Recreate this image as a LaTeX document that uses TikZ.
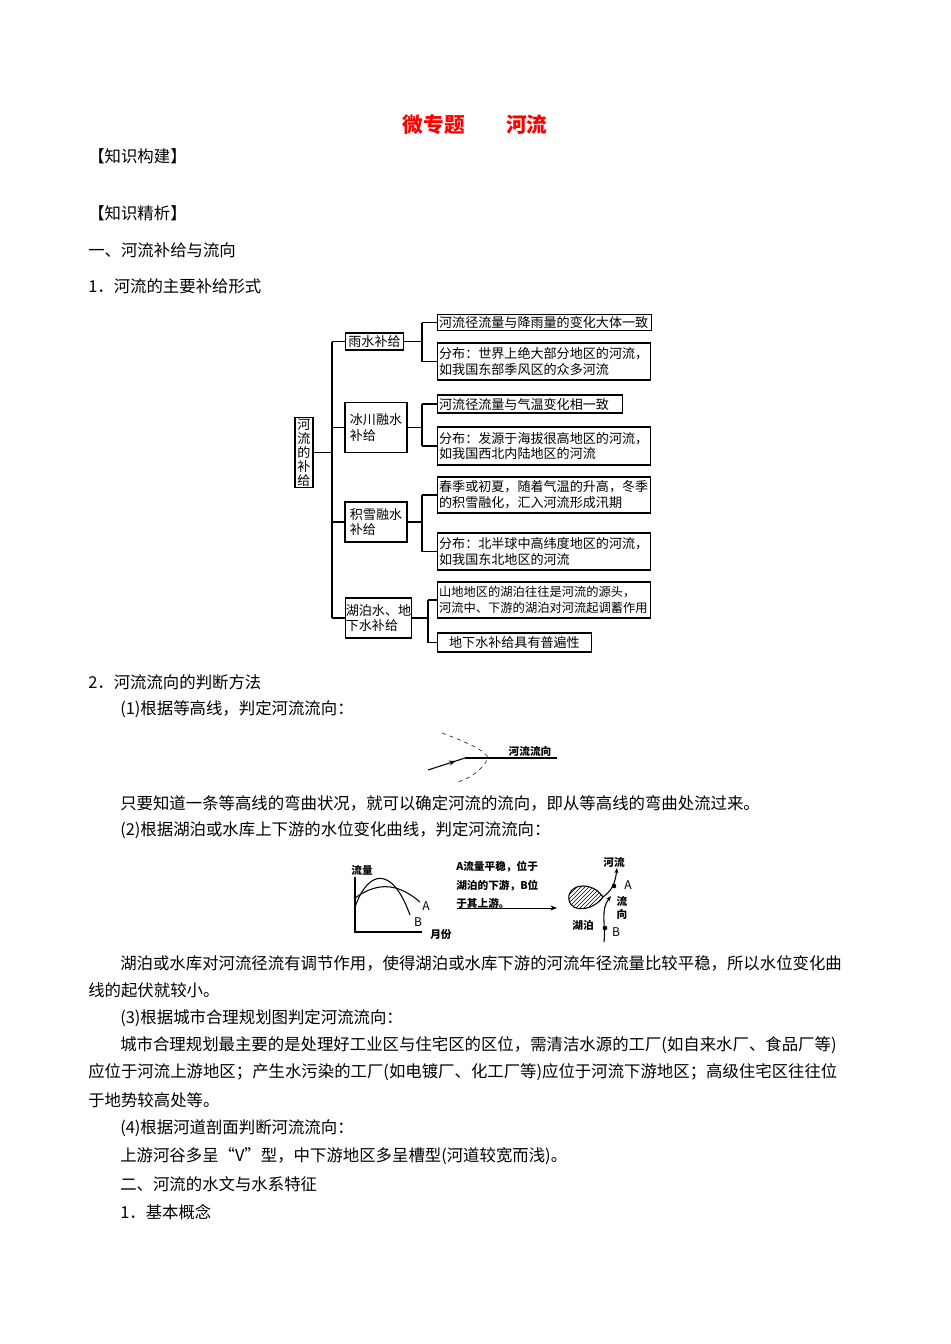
\documentclass[tikz,border=0pt]{standalone}
\usepackage{fontspec}
\setmainfont{Noto Sans CJK SC}
\usetikzlibrary{patterns,decorations.markings,arrows.meta}
\begin{document}
\begin{tikzpicture}[x=0.75pt,y=-0.75pt,
  body/.style={anchor=west,inner sep=0,font=\fontsize{12.3pt}{14pt}\selectfont},
  box/.style={draw,thick,inner sep=1.5pt,font=\fontsize{9.8pt}{11.8pt}\selectfont,align=left},
  leaf/.style={box,anchor=west,text width=#1-3pt,inner sep=1.2pt},
  small/.style={inner sep=0,font=\bfseries\fontsize{8pt}{10pt}\selectfont,align=left}]
\useasboundingbox (0,0) rectangle (950,1344);
\node[inner sep=0,text=red,font=\bfseries\fontsize{15.5pt}{18pt}\selectfont] (title) at (475,125) {微专题\hspace{2em}河流};
\node[body] (t1) at (88,156) {【知识构建】};
\node[body] (t2) at (88,213) {【知识精析】};
\node[body] (t3) at (88,250) {一、河流补给与流向};
\node[body] (t4) at (88,286) {1．河流的主要补给形式};
% tree
\node[box,minimum width=13.5pt,minimum height=53pt,inner sep=0,align=center,font=\fontsize{9.8pt}{10.4pt}\selectfont] (root) at (304,452.5) {河\\流\\的\\补\\给};
\node[box,minimum width=44pt,minimum height=12.75pt] (a1) at (374.5,341.5) {雨水补给};
\node[box,minimum width=46.5pt,minimum height=38pt] (a2) at (376,427.5) {冰川融水\\补给};
\node[box,minimum width=46.5pt,minimum height=30pt] (a3) at (376,522) {积雪融水\\补给};
\node[box,minimum width=50pt,minimum height=30pt,inner sep=0.5pt] (a4) at (378.5,618) {湖泊水、地\\下水补给};
\node[leaf=161pt,minimum height=11.25pt] (l1) at (437,322.5) {河流径流量与降雨量的变化大体一致};
\node[leaf=160pt,minimum height=27.75pt] (l2) at (437,361.5) {分布：世界上绝大部分地区的河流，\\如我国东部季风区的众多河流};
\node[leaf=139pt,minimum height=13.5pt] (l3) at (437,404) {河流径流量与气温变化相一致};
\node[leaf=160pt,minimum height=28.5pt] (l4) at (437,446) {分布：发源于海拔很高地区的河流，\\如我国西北内陆地区的河流};
\node[leaf=160.5pt,minimum height=27pt] (l5) at (437,495) {春季或初夏，随着气温的升高，冬季\\的积雪融化，汇入河流形成汛期};
\node[leaf=160pt,minimum height=27.75pt] (l6) at (437,551.5) {分布：北半球中高纬度地区的河流，\\如我国东北地区的河流};
\node[leaf=160.5pt,minimum height=27pt,font=\fontsize{9.2pt}{11.8pt}\selectfont] (l7) at (437,600) {山地地区的湖泊往往是河流的源头，\\河流中、下游的湖泊对河流起调蓄作用};
\node[leaf=116pt,minimum height=14.25pt,align=center] (l8) at (437,642.5) {地下水补给具有普遍性};
\coordinate (tr) at (332,0);
\coordinate (b1) at (422,0);
\coordinate (b4) at (428,0);
\begin{scope}[thick]
\draw (root.east) -- (root.east -| tr);
\draw (tr |- a1.west) -- (tr |- a4.west);
\foreach \a in {a1,a2,a3,a4} \draw (tr |- \a.west) -- (\a.west);
\foreach \a/\p/\q in {a1/l1/l2,a2/l3/l4,a3/l5/l6} {
  \draw (\a.east) -- (\a.east -| b1);
  \draw (b1 |- \p.west) -- (b1 |- \q.west);
  \draw (b1 |- \p.west) -- (\p.west);
  \draw (b1 |- \q.west) -- (\q.west);
}
\draw (a4.east) -- (a4.east -| b4);
\draw (b4 |- l7.west) -- (b4 |- l8.west);
\draw (b4 |- l7.west) -- (l7.west);
\draw (b4 |- l8.west) -- (l8.west);
\end{scope}
\node[body] (t5) at (88,682) {2．河流流向的判断方法};
\node[body] (t6) at (120,709) {(1)根据等高线，判定河流流向：};
% contour figure
\draw[dashed,thin] (442,733) .. controls (475,745) and (492,755) .. (487,760) .. controls (482,770) and (470,778) .. (458,782);
\coordinate (c0) at (428,770);
\coordinate (c1) at (465,758);
\coordinate (c2) at (557,758);
\draw[thick,decoration={markings,mark=at position 0.75 with {\arrow{Stealth[length=5pt]}}},postaction=decorate] (c0) -- (c1);
\draw[thick] (c1) -- (c2);
\node[small,anchor=south] (rl) at (530,757) {河流流向};
\node[body] (t7) at (120,803) {只要知道一条等高线的弯曲状况，就可以确定河流的流向，即从等高线的弯曲处流过来。};
\node[body] (t8) at (120,830) {(2)根据湖泊或水库上下游的水位变化曲线，判定河流流向：};
% flow graph
\node[small] (ql) at (362,870) {流量};
\coordinate (oy) at (355,877);
\coordinate (oo) at (355,932);
\coordinate (ox) at (422,932);
\draw[thick] (oy) -- (oo) -- (ox);
\draw[thick] (355,907) .. controls (368,870) and (392,865) .. (410,915);
\draw[thick] (355,898) .. controls (380,880) and (400,885) .. (420,902);
\node[small,font=\fontsize{9pt}{10pt}\selectfont] (la) at (426,906) {A};
\node[small,font=\fontsize{9pt}{10pt}\selectfont] (lb) at (418,922) {B};
\node[small,anchor=west] (mf) at (430,934) {月份};
\node[small,anchor=north west,font=\bfseries\fontsize{8pt}{14pt}\selectfont] (desc) at (456,861) {A流量平稳，位于\\湖泊的下游，B位\\于其上游。};
\coordinate (ar0) at (457,908);
\coordinate (ar1) at (557,908);
\draw[-{Stealth[length=5pt]}] (ar0) -- (ar1);
% lake figure
\node[small] (hl) at (614,862) {河流};
\draw[thick,pattern=north east lines] (603,897) .. controls (592,880) and (566,884) .. (569,900) .. controls (572,914) and (594,910) .. (603,897);
\draw[thick,-{Stealth[length=4pt]}] (604,942) .. controls (606,925) and (600,910) .. (611,896);
\draw[thick,-{Stealth[length=4pt]}] (603,897) .. controls (611,891) and (615,885) .. (617,868);
\fill (614,886) circle (2.3);
\fill (605,928) circle (2.3);
\node[small,font=\fontsize{9pt}{10pt}\selectfont] (ra) at (628,885) {A};
\node[small] (fx) at (622,908) {流\\向};
\node[small] (hp) at (583,925) {湖泊};
\node[small,font=\fontsize{9pt}{10pt}\selectfont] (rb) at (616,932) {B};
% text
\node[body] (t9) at (120,963) {湖泊或水库对河流径流有调节作用，使得湖泊或水库下游的河流年径流量比较平稳，所以水位变化曲};
\node[body] (t10) at (88,990) {线的起伏就较小。};
\node[body] (t11) at (120,1018) {(3)根据城市合理规划图判定河流流向：};
\node[body] (t12) at (120,1045) {城市合理规划最主要的是处理好工业区与住宅区的区位，需清洁水源的工厂(如自来水厂、食品厂等)};
\node[body] (t13) at (88,1072) {应位于河流上游地区；产生水污染的工厂(如电镀厂、化工厂等)应位于河流下游地区；高级住宅区往往位};
\node[body] (t14) at (88,1100) {于地势较高处等。};
\node[body] (t15) at (120,1128) {(4)根据河道剖面判断河流流向：};
\node[body] (t16) at (120,1156) {上游河谷多呈“V”型，中下游地区多呈槽型(河道较宽而浅)。};
\node[body] (t17) at (120,1184) {二、河流的水文与水系特征};
\node[body] (t18) at (120,1212) {1．基本概念};
\end{tikzpicture}
\end{document}
